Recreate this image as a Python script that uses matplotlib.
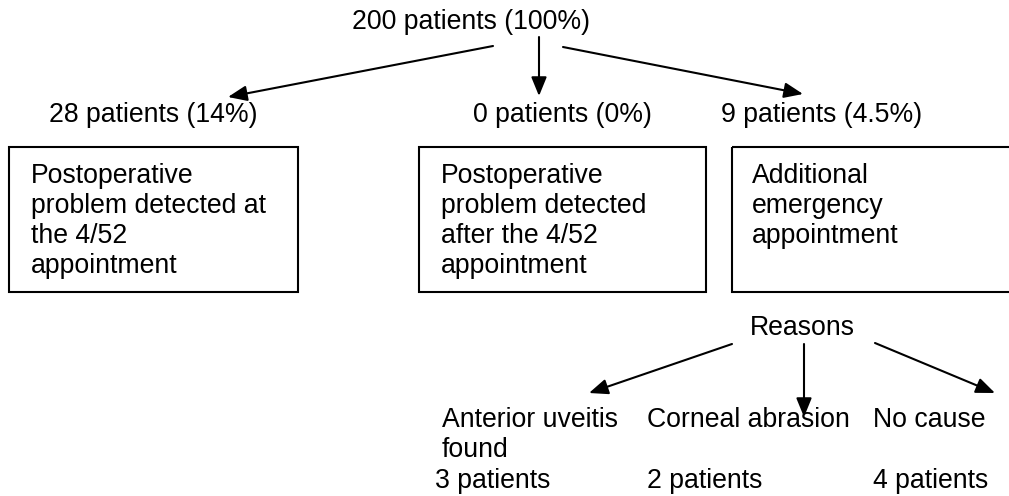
import matplotlib
matplotlib.use('Agg')
import matplotlib.pyplot as plt
from matplotlib.patches import Rectangle

# --- content ---
top_label = "200 patients (100%)"
group_labels = ["28 patients (14%)", "0 patients (0%)", "9 patients (4.5%)"]
box_lines = [
    ["Postoperative", "problem detected at", "the 4/52", "appointment"],
    ["Postoperative", "problem detected", "after the 4/52", "appointment"],
    ["Additional", "emergency", "appointment"],
]
reasons_label = "Reasons"
reason_lines = [["Anterior uveitis", "found"], ["Corneal abrasion"], ["No cause"]]
reason_counts = ["3 patients", "2 patients", "4 patients"]

# --- layout (pixel space, y pointing down) ---
W, H = 1009, 496
top_pos = (352, 29)
group_x = [49, 473, 721]
group_y = 122
box_x = [(9, 298), (419, 706), (732, 1020)]
box_y = (147, 292)
box_text_x = [31, 441, 752]
box_text_y = 183
line_gap = 30
reasons_pos = (750, 335)
reason_x = [442, 647, 873]
reason_y = 427
count_x = [435, 647, 873]
count_y = 488

top_arrows = [((493, 46), (228, 97)), ((539, 37), (539, 96)), ((563, 47), (803, 94))]
reason_arrows = [((732, 344), (589, 393)), ((804, 344), (804, 417)), ((875, 343), (995, 393))]

plt.rcParams['font.family'] = ['Liberation Sans', 'DejaVu Sans']
FS = 19.2

fig = plt.figure(figsize=(W / 100, H / 100), dpi=100)
ax = fig.add_axes([0, 0, 1, 1])
ax.set_xlim(0, W)
ax.set_ylim(H, 0)
ax.axis('off')


def label(x, y, s):
    ax.text(x, y, s, fontsize=FS, ha='left', va='baseline', color='black')


def arrow(start, end):
    ax.annotate('', xy=end, xytext=start,
                arrowprops=dict(arrowstyle='-|>,head_length=1.15,head_width=0.47',
                                mutation_scale=10, lw=1.5, color='black',
                                shrinkA=0, shrinkB=0))


label(*top_pos, top_label)
for s, e in top_arrows:
    arrow(s, e)

for x, s in zip(group_x, group_labels):
    label(x, group_y, s)

for (x0, x1), tx, lines in zip(box_x, box_text_x, box_lines):
    ax.add_patch(Rectangle((x0, box_y[0]), x1 - x0, box_y[1] - box_y[0],
                           fill=False, edgecolor='black', lw=1.5))
    for i, ln in enumerate(lines):
        label(tx, box_text_y + i * line_gap, ln)

label(*reasons_pos, reasons_label)
for s, e in reason_arrows:
    arrow(s, e)

for x, lines in zip(reason_x, reason_lines):
    for i, ln in enumerate(lines):
        label(x, reason_y + i * line_gap, ln)

for x, s in zip(count_x, reason_counts):
    label(x, count_y, s)

fig.savefig('out.png', dpi=100)
